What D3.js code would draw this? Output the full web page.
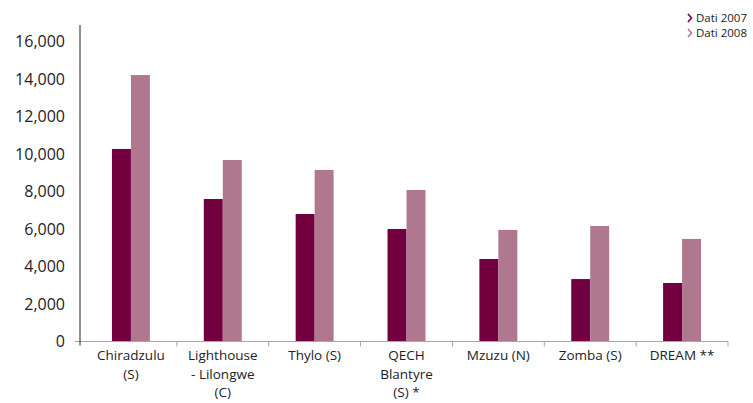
<!DOCTYPE html>
<html>
<head>
<meta charset="utf-8">
<script src="https://cdnjs.cloudflare.com/ajax/libs/d3/7.8.5/d3.min.js"></script>
<style>
  body { margin: 0; background: #fff; }
  svg { font-family: "Open Sans", Roboto, sans-serif; }
</style>
</head>
<body>
<svg width="753" height="403"></svg>
<script>
// categories and series
const sites = ['Chiradzulu (S)', 'Lighthouse - Lilongwe (C)', 'Thylo (S)', 'QECH Blantyre (S) *', 'Mzuzu (N)', 'Zomba (S)', 'DREAM **'];
const siteLines = [['Chiradzulu', '(S)'], ['Lighthouse', '- Lilongwe', '(C)'], ['Thylo (S)'], ['QECH', 'Blantyre', '(S) *'], ['Mzuzu (N)'], ['Zomba (S)'], ['DREAM **']];
const series = ['Dati 2007', 'Dati 2008'];
const dati2007 = [10270, 7600, 6800, 6000, 4400, 3330, 3120];
const dati2008 = [14210, 9680, 9150, 8080, 5950, 6160, 5470];
const yTicks = [0, 2000, 4000, 6000, 8000, 10000, 12000, 14000, 16000];

const colors = ['#720040', '#b0788e'];

let rows = sites.map((s, i) => ({ site: s, lines: siteLines[i], values: [dati2007[i], dati2008[i]] }));

let svg = d3.select('svg');

let x0 = d3.scaleBand()
  .domain(sites)
  .range([85, 728]);

let x1 = d3.scaleBand()
  .domain(series)
  .range([0, x0.bandwidth()])
  .paddingOuter(1.42);

let y = d3.scaleLinear()
  .domain([0, 16000])
  .range([341.5, 41.5]);

// bars
let groups = svg.selectAll('.site')
  .data(rows)
  .enter()
    .append('g')
    .attr('class', 'site')
    .attr('transform', d => `translate(${x0(d.site)},0)`);

groups.selectAll('rect')
  .data(d => d.values.map((v, i) => ({ key: series[i], value: v, idx: i })))
  .enter()
    .append('rect')
    .attr('x', d => x1(d.key))
    .attr('width', x1.bandwidth())
    .attr('y', d => y(d.value))
    .attr('height', d => y(0) - y(d.value))
    .attr('fill', d => colors[d.idx]);

// x axis (gray baseline + ticks at band edges)
svg.append('line')
  .attr('x1', 75).attr('x2', 728)
  .attr('y1', y(0)).attr('y2', y(0))
  .attr('stroke', '#a6a6a6').attr('stroke-width', 1);

svg.selectAll('.xtick')
  .data(sites)
  .enter()
    .append('line')
    .attr('class', 'xtick')
    .attr('x1', d => x0(d) + x0.bandwidth())
    .attr('x2', d => x0(d) + x0.bandwidth())
    .attr('y1', y(0)).attr('y2', y(0) + 5)
    .attr('stroke', '#a6a6a6');

svg.selectAll('.xlabel')
  .data(rows)
  .enter()
    .append('text')
    .attr('class', 'xlabel')
    .attr('text-anchor', 'middle')
    .attr('font-size', 13.5)
    .attr('fill', '#222')
    .attr('transform', d => `translate(${x0(d.site) + x0.bandwidth() / 2},360)`)
    .selectAll('tspan')
    .data(d => d.lines)
    .enter()
      .append('tspan')
      .attr('x', 0)
      .attr('y', (d, i) => i * 18.5)
      .text(d => d);

// y axis
let yAxis = d3.axisLeft(y)
  .tickValues(yTicks)
  .tickSize(0)
  .tickPadding(15)
  .tickFormat(d3.format(','));

let yg = svg.append('g')
  .attr('transform', 'translate(80,0)')
  .call(yAxis);
yg.select('.domain').remove();
yg.selectAll('text')
  .attr('font-size', 16)
  .attr('font-family', '"Open Sans", sans-serif')
  .attr('fill', '#222');

svg.append('line')
  .attr('x1', 80).attr('x2', 80)
  .attr('y1', 25).attr('y2', y(0) + 4)
  .attr('stroke', '#222');

// legend
let legend = svg.selectAll('.legend')
  .data(series)
  .enter()
    .append('g')
    .attr('class', 'legend')
    .attr('transform', (d, i) => `translate(688,${18 + i * 15})`);

legend.append('path')
  .attr('d', 'M0,-4 L3.5,0 L0,4')
  .attr('fill', 'none')
  .attr('stroke', (d, i) => colors[i])
  .attr('stroke-width', 1.6);

legend.append('text')
  .attr('x', 8)
  .attr('dy', '0.35em')
  .attr('font-size', 11.5)
  .attr('fill', '#222')
  .text(d => d);
</script>
</body>
</html>
